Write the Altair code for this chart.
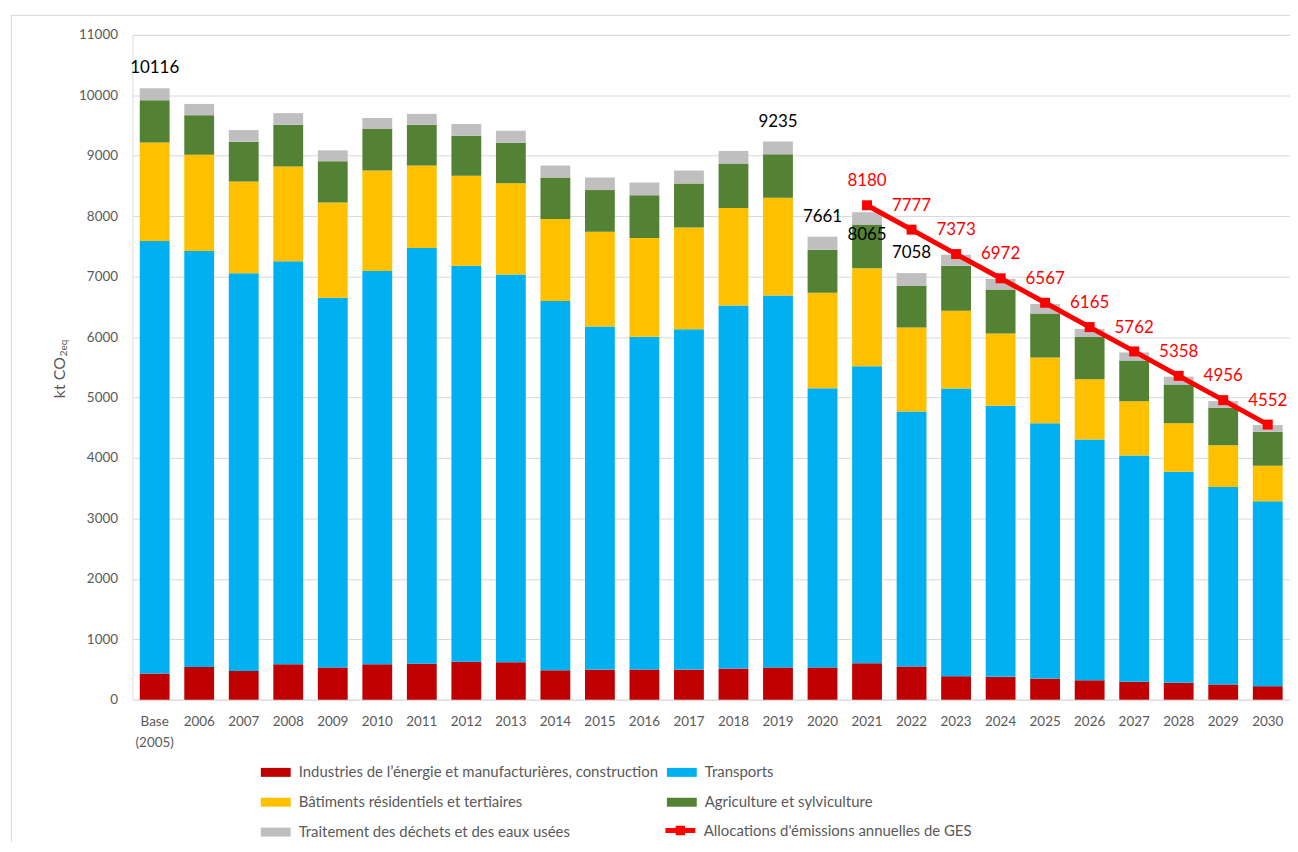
import altair as alt
import pandas as pd

annees = ["Base (2005)", "2006", "2007", "2008", "2009", "2010", "2011", "2012", "2013",
          "2014", "2015", "2016", "2017", "2018", "2019", "2020", "2021", "2022", "2023",
          "2024", "2025", "2026", "2027", "2028", "2029", "2030"]

secteurs = ["Industries de l\u2019énergie et manufacturières, construction",
            "Transports",
            "Bâtiments résidentiels et tertiaires",
            "Agriculture et sylviculture",
            "Traitement des déchets et des eaux usées"]
couleurs = ["#C00000", "#00B0F0", "#FFC000", "#548235", "#BFBFBF"]

industries = [433, 543, 477, 586, 531, 586, 597, 630, 618, 487, 498, 498, 498, 515, 531, 531,
              602, 548, 389, 378, 350, 322, 296, 280, 252, 224]
transports = [7154, 6880, 6579, 6667, 6119, 6508, 6875, 6550, 6415, 6108, 5675, 5505, 5630,
              6008, 6157, 4622, 4913, 4222, 4759, 4484, 4222, 3981, 3743, 3491, 3268, 3059]
batiments = [1633, 1595, 1518, 1568, 1574, 1661, 1365, 1490, 1513, 1359, 1567, 1634, 1684,
             1612, 1618, 1579, 1623, 1386, 1288, 1196, 1091, 998, 900, 801, 691, 587]
agriculture = [698, 653, 658, 691, 684, 686, 675, 661, 669, 686, 691, 707, 729, 735, 717, 712,
               724, 691, 745, 728, 728, 702, 674, 642, 618, 564]
dechets = [198, 186, 192, 192, 181, 181, 180, 194, 198, 197, 209, 214, 214, 209, 212, 217,
           203, 211, 181, 176, 155, 132, 132, 131, 110, 110]

totaux_annees = ["Base (2005)", "2019", "2020", "2021", "2022"]
totaux_valeurs = [10116, 9235, 7661, 8065, 7058]

alloc_nom = "Allocations d'émissions annuelles de GES"
alloc_annees = ["2021", "2022", "2023", "2024", "2025", "2026", "2027", "2028", "2029", "2030"]
alloc_valeurs = [8180, 7777, 7373, 6972, 6567, 6165, 5762, 5358, 4956, 4552]

FONT = "Lato"
GRIS = "#595959"

series = [industries, transports, batiments, agriculture, dechets]
rows = []
for i, (nom, vals) in enumerate(zip(secteurs, series)):
    for a, v in zip(annees, vals):
        rows.append({"annee": a, "secteur": nom, "valeur": v, "ordre": i})
df = pd.DataFrame(rows)
df_tot = pd.DataFrame({"annee": totaux_annees, "total": totaux_valeurs})
df_alloc = pd.DataFrame({"annee": alloc_annees, "valeur": alloc_valeurs, "serie": [alloc_nom] * len(alloc_annees)})

x_scale = alt.Scale(domain=annees, paddingInner=0.33, paddingOuter=0.165)
x_axis = alt.Axis(title=None, labelAngle=0, ticks=False, domain=False, grid=False,
                  labelPadding=15, labelFont=FONT, labelFontSize=13.5, labelColor=GRIS,
                  labelLineHeight=21,
                  labelExpr="datum.value == 'Base (2005)' ? ['Base', '(2005)'] : datum.value")
y_scale = alt.Scale(domain=[0, 11000], nice=False, zero=True)
y_axis = alt.Axis(title=None, values=list(range(0, 11001, 1000)), ticks=False, domain=False,
                  gridColor="#D9D9D9", gridWidth=1, labelPadding=15, labelFont=FONT,
                  labelFontSize=13.5, labelColor=GRIS, format="d")


def X():
    return alt.X("annee:N", sort=annees, scale=x_scale, axis=x_axis)


def Y(field):
    return alt.Y(field, scale=y_scale, axis=y_axis)


bars = alt.Chart(df).mark_bar(strokeWidth=0).encode(
    x=X(),
    y=alt.Y("valeur:Q", stack="zero", scale=y_scale, axis=y_axis),
    color=alt.Color("secteur:N", sort=secteurs,
                    scale=alt.Scale(domain=secteurs, range=couleurs),
                    legend=alt.Legend(title=None, orient="none", legendX=129, legendY=726,
                                      columns=2, direction="horizontal",
                                      symbolType="M-1,-0.3H1V0.3H-1Z",
                                      symbolSize=900, symbolStrokeWidth=0, labelFont=FONT,
                                      labelFontSize=15, labelColor=GRIS, labelLimit=0,
                                      columnPadding=8, rowPadding=7, padding=0,
                                      labelOffset=8)),
    order=alt.Order("ordre:Q", sort="ascending"),
)

tot_haut = alt.Chart(df_tot).transform_filter(alt.datum.annee != "2021").mark_text(
    font=FONT, fontSize=17, color="#000000", dy=-20, baseline="middle"
).encode(x=X(), y=Y("total:Q"), text="total:Q")

tot_bas = alt.Chart(df_tot).transform_filter(alt.datum.annee == "2021").mark_text(
    font=FONT, fontSize=17, color="#000000", dy=23, baseline="middle"
).encode(x=X(), y=Y("total:Q"), text="total:Q")

ligne = alt.Chart(df_alloc).mark_line(strokeWidth=5).encode(
    x=X(), y=Y("valeur:Q"),
    stroke=alt.Stroke("serie:N", scale=alt.Scale(domain=[alloc_nom], range=["#FF0000"]),
                      legend=alt.Legend(title=None, orient="none", legendX=533, legendY=782,
                                        symbolType="M-1,0H1M-0.15,-0.15H0.15V0.15H-0.15Z",
                                        symbolSize=900, symbolStrokeWidth=5, labelFont=FONT,
                                        labelFontSize=15, labelColor=GRIS, labelLimit=0,
                                        padding=0, labelOffset=6)),
)

points = alt.Chart(df_alloc).mark_square(size=100, color="#FF0000", opacity=1, filled=True).encode(
    x=X(), y=Y("valeur:Q"))

etiquettes = alt.Chart(df_alloc).mark_text(
    font=FONT, fontSize=17, color="#FF0000", dy=-24, baseline="middle"
).encode(x=X(), y=Y("valeur:Q"), text="valeur:Q")

un = pd.DataFrame({"t": ["kt CO"], "s": ["2eq"]})
titre_y = alt.Chart(un).mark_text(font=FONT, fontSize=16, color=GRIS, angle=270,
                                  align="left", baseline="middle").encode(
    text="t:N", x=alt.value(-73), y=alt.value(365))
titre_sub = alt.Chart(un).mark_text(font=FONT, fontSize=10, color=GRIS, angle=270,
                                    align="left", baseline="middle").encode(
    text="s:N", x=alt.value(-69), y=alt.value(323))

cadre_g = alt.Chart(un).mark_rule(color="#D9D9D9", strokeWidth=1).encode(
    x=alt.value(-121.5), y=alt.value(-19.5), y2=alt.value(830))
cadre_h = alt.Chart(un).mark_rule(color="#D9D9D9", strokeWidth=1).encode(
    y=alt.value(-19.5), x=alt.value(-121.5), x2=alt.value(1200))

chart = alt.layer(
    cadre_g, cadre_h, bars, tot_haut, tot_bas, ligne, points, etiquettes, titre_y, titre_sub
).properties(
    width=1163, height=668,
    autosize=alt.AutoSizeParams(type="none"),
    padding={"left": 125, "top": 25, "right": 0, "bottom": 141},
).resolve_scale(color="independent").configure_view(strokeWidth=0).configure(background="white")

chart.save("out.html", embed_options={"renderer": "svg", "actions": False})
